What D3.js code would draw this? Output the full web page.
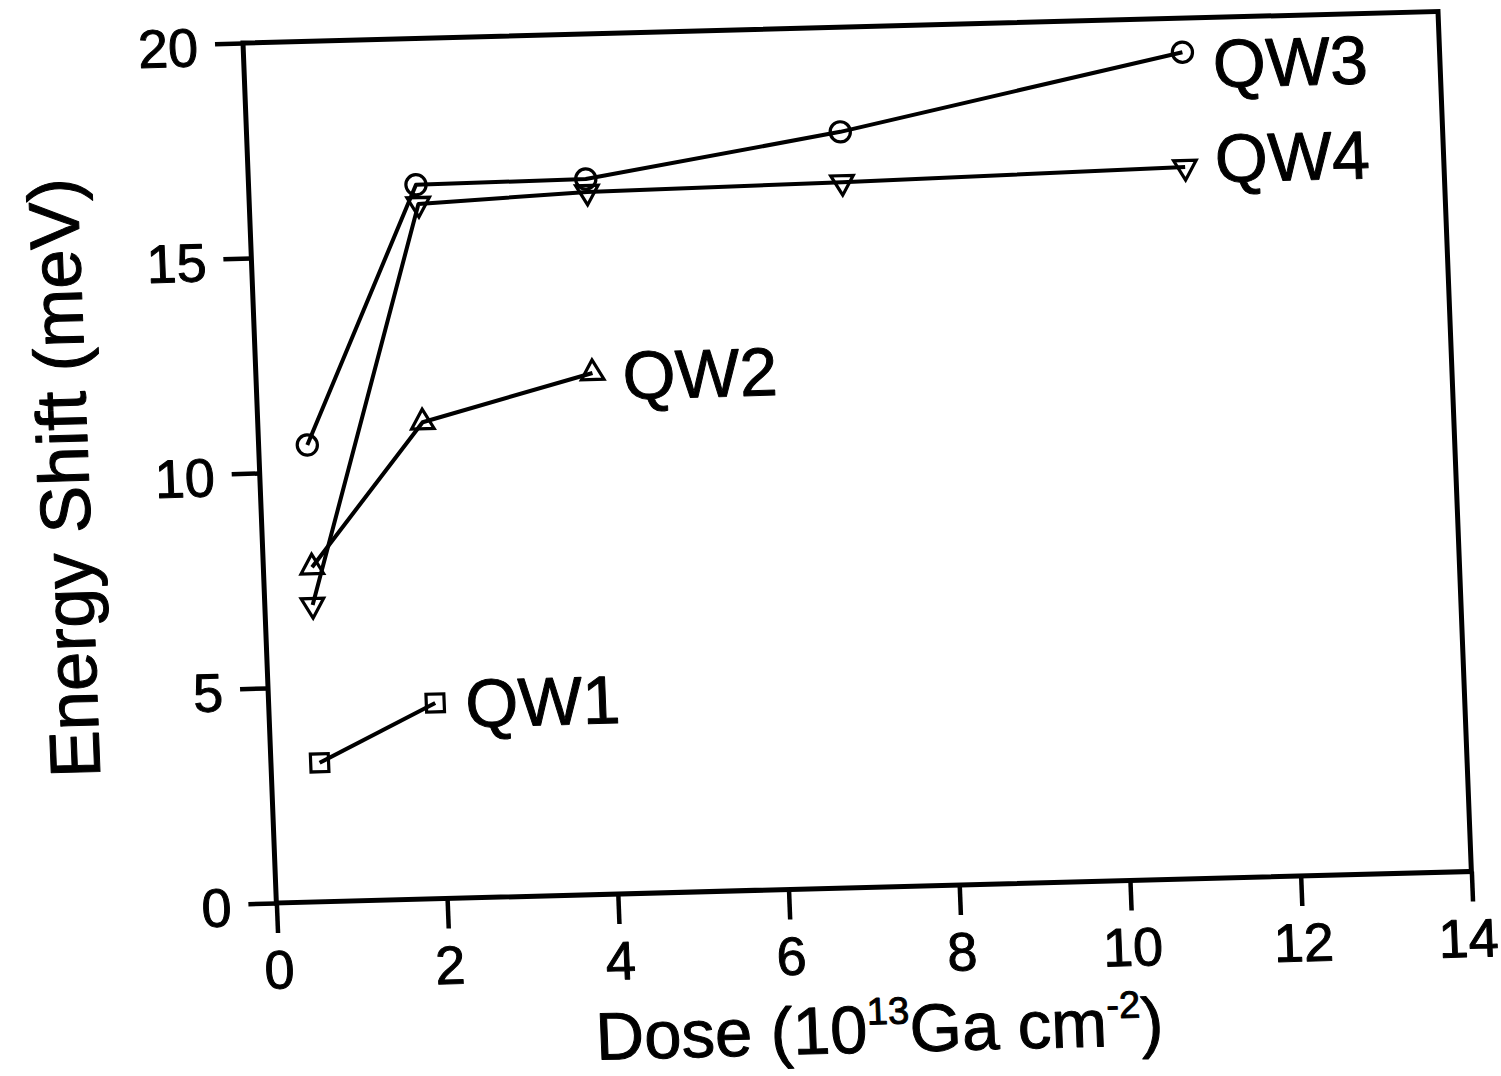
<!DOCTYPE html>
<html><head><meta charset="utf-8">
<script src="https://cdn.jsdelivr.net/npm/d3@7"></script>
<style>html,body{margin:0;padding:0;background:#fff;} svg{display:block;}</style>
</head><body>
<svg id="chart" width="1501" height="1076"></svg>
<script>
// ---- data ----
const xTicks = [0, 2, 4, 6, 8, 10, 12, 14];
const yTicks = [0, 5, 10, 15, 20];
const seriesNames = ["QW1", "QW2", "QW3", "QW4"];
const qw1Dose  = [0.57, 1.95];
const qw1Shift = [3.23, 4.55];
const qw2Dose  = [0.57, 1.93, 3.94];
const qw2Shift = [7.78, 11.08, 12.12];
const qw3Dose  = [0.57, 1.96, 3.95, 6.95, 10.99];
const qw3Shift = [10.62, 16.60, 16.63, 17.57, 19.21];
const qw4Dose  = [0.56, 1.98, 3.96, 6.95, 10.97];
const qw4Shift = [6.90, 16.15, 16.33, 16.40, 16.54];
const xTitle = "Dose";
const yTitle = "Energy Shift (meV)";

// ---- layout ----
const W = 1195, H = 860;
const FONT = "'Liberation Sans', Arial, Helvetica, sans-serif";
const svg = d3.select("#chart");
// slight skew/rotation of the scanned figure
const g = svg.append("g").attr("transform", "matrix(1,-0.0264,0.0388,1,243,43)");

const x = d3.scaleLinear().domain([0, 14]).range([0, W]);
const y = d3.scaleLinear().domain([0, 20]).range([H, 0]);

const series = [
  {name: seriesNames[0], dose: qw1Dose, shift: qw1Shift, sym: "square", ldy: 1},
  {name: seriesNames[1], dose: qw2Dose, shift: qw2Shift, sym: "up", ldy: 3},
  {name: seriesNames[2], dose: qw3Dose, shift: qw3Shift, sym: "circle", ldy: 12},
  {name: seriesNames[3], dose: qw4Dose, shift: qw4Shift, sym: "down", ldy: -8}
];

function boldish(sel, w) {
  sel.attr("fill", "#000").attr("stroke", "#000").attr("stroke-width", w).attr("stroke-linejoin", "round");
}

// axes
const xAxis = d3.axisBottom(x).tickValues(xTicks).tickSize(30).tickSizeOuter(0).tickPadding(17);
const yAxis = d3.axisLeft(y).tickValues(yTicks).tickSize(28).tickSizeOuter(0).tickPadding(17);

const gx = g.append("g").attr("transform", `translate(0,${H})`).call(xAxis);
const gy = g.append("g").call(yAxis);
[gx, gy].forEach(a => {
  a.select(".domain").remove();
  a.selectAll(".tick line").attr("stroke", "#000").attr("stroke-width", 4.5);
  a.selectAll(".tick text").style("font-family", FONT).style("font-size", "54px").call(boldish, 1);
});
gy.selectAll(".tick text").attr("dy", "0.4em");
gx.selectAll(".tick text").filter(d => d === xTicks[xTicks.length - 1]).attr("dx", -6);

// frame
g.append("rect").attr("x", 0).attr("y", 0).attr("width", W).attr("height", H)
  .attr("fill", "none").attr("stroke", "#000").attr("stroke-width", 5);

// lines + markers
const line = d3.line().x(d => x(d[0])).y(d => y(d[1]));
const symGen = {
  square: d3.symbol().type(d3.symbolSquare).size(320),
  up: d3.symbol().type(d3.symbolTriangle).size(220),
  down: d3.symbol().type(d3.symbolTriangle).size(220),
  circle: d3.symbol().type(d3.symbolCircle).size(320)
};
series.forEach(s => {
  const pts = s.dose.map((d, i) => [d, s.shift[i]]);
  g.append("path").datum(pts).attr("d", line)
    .attr("fill", "none").attr("stroke", "#000").attr("stroke-width", 4).attr("stroke-linejoin", "round");
  g.selectAll(null).data(pts).enter().append("path")
    .attr("d", symGen[s.sym]())
    .attr("transform", d => `translate(${x(d[0])},${y(d[1])})` + (s.sym === "down" ? " rotate(180)" : ""))
    .attr("fill", "none").attr("stroke", "#000").attr("stroke-width", 3.2);
  const last = pts[pts.length - 1];
  g.append("text").attr("x", x(last[0]) + 30).attr("y", y(last[1]) + s.ldy + 24)
    .style("font-family", FONT).style("font-size", "68px").text(s.name).call(boldish, 1);
});

// axis titles
g.append("text").attr("transform", `translate(-171,${H / 2}) rotate(-90)`)
  .attr("text-anchor", "middle").style("font-family", FONT).style("font-size", "71px")
  .text(yTitle).call(boldish, 1);

const xt = g.append("text").attr("x", W / 2).attr("y", 1025).attr("text-anchor", "middle")
  .style("font-family", FONT).style("font-size", "67px").call(boldish, 1);
xt.append("tspan").text(xTitle + " (10");
xt.append("tspan").attr("dy", -28).style("font-size", "38px").text("13");
xt.append("tspan").attr("dy", 28).text("Ga cm");
xt.append("tspan").attr("dy", -28).style("font-size", "38px").text("-2");
xt.append("tspan").attr("dy", 28).text(")");
</script>
</body></html>
